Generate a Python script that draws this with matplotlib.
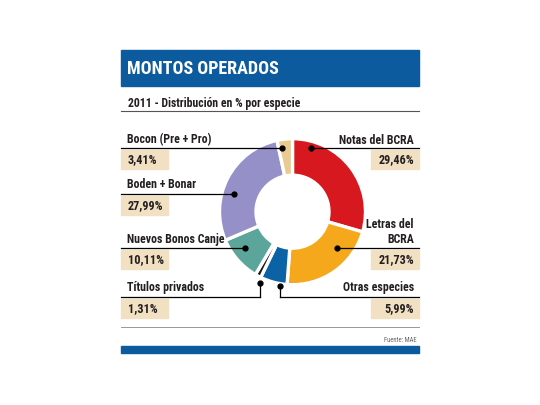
import matplotlib.pyplot as plt
from matplotlib.patches import Rectangle

plt.rcParams['font.family'] = ['Roboto Condensed', 'DejaVu Sans']

# datos
especies = ['Notas del BCRA', 'Letras del\nBCRA', 'Otras especies', 'Títulos privados',
            'Nuevos Bonos Canje', 'Boden + Bonar', 'Bocon (Pre + Pro)']
valores = [29.46, 21.73, 5.99, 1.31, 10.11, 27.99, 3.41]
colores = ['#d7181f', '#f6a81d', '#0b62a4', '#1c1c1c', '#5ca59b', '#9690c9', '#e9cb92']

# layout de etiquetas (pixeles, y desde arriba): lado, y titulo, y linea, dot x, dot y
layout = [
    ('R', 140, 148, 311, 148),
    ('R', 232, 248, 337, 248),
    ('R', 288, 297, 280, 286),
    ('L', 287, 297, 260, 283),
    ('L', 239, 248, 245, 248),
    ('L', 185, 194, 234, 194),
    ('L', 140, 148, 282, 148),
]

W, H = 540, 405
azul = '#0b5b9e'
texto = '#231f20'
caja = '#f1e0c2'

fig = plt.figure(figsize=(W / 100, H / 100), dpi=100)
fig.patch.set_facecolor('white')

# dona
cx, cy, r = 292.5, 211.7, 73
ax_pie = fig.add_axes([(cx - r) / W, (H - cy - r) / H, 2 * r / W, 2 * r / H])
ax_pie.pie(valores, colors=colores, startangle=90, counterclock=False,
           wedgeprops=dict(width=0.5, edgecolor='white', linewidth=2.4))
ax_pie.set_xlim(-1, 1)
ax_pie.set_ylim(-1, 1)
ax_pie.axis('off')

# capa de texto en pixeles
ax = fig.add_axes([0, 0, 1, 1])
ax.set_xlim(0, W)
ax.set_ylim(H, 0)
ax.axis('off')
ax.patch.set_alpha(0)

# encabezado
ax.add_patch(Rectangle((121, 50), 298, 36, color=azul))
ax.text(127, 69.5, 'MONTOS OPERADOS', color='white', fontsize=13, fontweight='heavy',
        va='center', ha='left')
ax.text(128, 103, '2011 - Distribución en % por especie', color=texto, fontsize=8.5,
        fontweight='bold', va='center', ha='left')
ax.plot([121, 419], [111, 111], color='#555555', lw=0.8)

for nombre, val, (lado, yt, yl, dx, dy) in zip(especies, valores, layout):
    pct = f'{val:.2f}%'.replace('.', ',')
    if lado == 'L':
        ax.text(127, yt, nombre, color=texto, fontsize=8.6, fontweight='bold',
                va='center', ha='left')
        ax.add_patch(Rectangle((121, yl + 2), 47, 19, color=caja))
        ax.text(128, yl + 11.5, pct, color=texto, fontsize=8.8, fontweight='bold',
                va='center', ha='left')
        ax.plot([121, dx], [yl, yl], color='black', lw=0.9)
    else:
        ax.text(414, yt, nombre, color=texto, fontsize=8.6, fontweight='bold',
                va='center', ha='right', linespacing=1.25)
        ax.add_patch(Rectangle((371, yl + 2), 48, 19, color=caja))
        ax.text(414, yl + 11.5, pct, color=texto, fontsize=8.8, fontweight='bold',
                va='center', ha='right')
        ax.plot([dx, 419], [yl, yl], color='black', lw=0.9)
    if dy != yl:
        ax.plot([dx, dx], [yl, dy], color='black', lw=0.9)
    ax.plot(dx, dy, 'o', color='black', ms=3.5)

# pie de pagina
ax.plot([121, 419], [327, 327], color='#888888', lw=0.6)
ax.text(417, 340, 'Fuente: MAE', color='#666666', fontsize=4.8, va='center', ha='right')
ax.add_patch(Rectangle((121, 346), 298, 7, color=azul))

fig.savefig('out.png', dpi=100)
